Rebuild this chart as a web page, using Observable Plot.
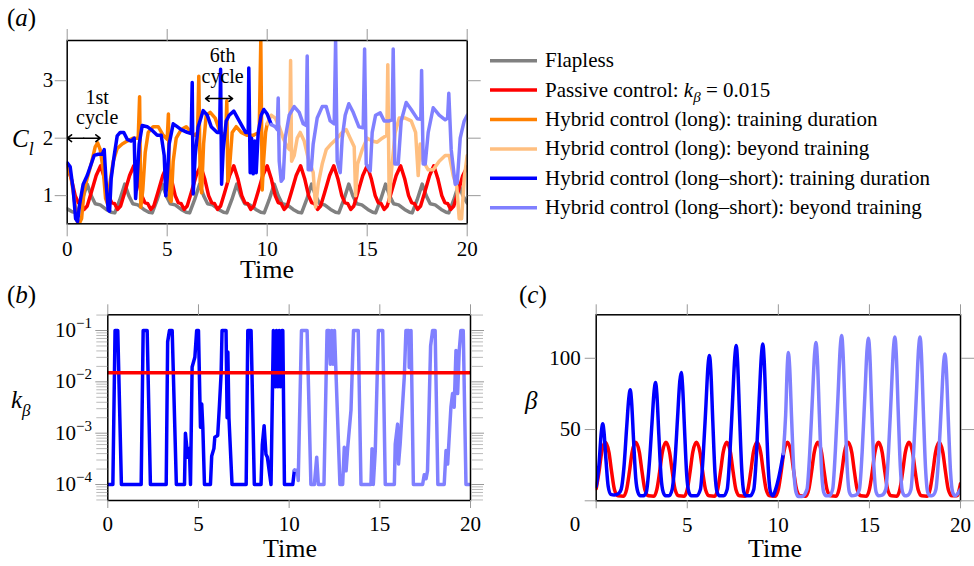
<!DOCTYPE html>
<html><head><meta charset="utf-8">
<script src="https://cdn.jsdelivr.net/npm/d3@7"></script>
<script src="https://cdn.jsdelivr.net/npm/@observablehq/plot@0.6"></script>
<style>
body{margin:0;background:#fff;}
#wrap{position:relative;width:974px;height:566px;overflow:hidden;}
#wrap svg{position:absolute;left:0;top:0;}
#wrap svg text{font-family:"Liberation Serif","Times New Roman",Times,serif !important;}
</style></head><body><div id="wrap"></div>
<script>
// ---------- tick values / labels ----------
const xTicks = [0, 5, 10, 15, 20];
const clTicks = [1, 2, 3];
const kTicks = [1e-4, 1e-3, 1e-2, 1e-1];
const kTickExp = ["−4", "−3", "−2", "−1"];
const betaTicks = [0, 50, 100];

// ---------- panel (a): lift coefficient C_l vs time ----------
const flapless = [[0,0.77],[0.25,0.72],
[0.5,0.7],[0.75,0.93],[1.0,1.2],[1.2,1.0],[1.4,0.86],[1.65,0.84],[1.95,0.76],[2.2,0.71],
[2.38,0.7],[2.63,0.93],[2.88,1.2],[3.08,1.0],[3.28,0.86],[3.53,0.84],[3.83,0.76],[4.08,0.71],
[4.25,0.7],[4.5,0.93],[4.75,1.2],[4.95,1.0],[5.15,0.86],[5.4,0.84],[5.7,0.76],[5.95,0.71],
[6.12,0.7],[6.37,0.93],[6.62,1.2],[6.82,1.0],[7.02,0.86],[7.27,0.84],[7.57,0.76],[7.82,0.71],
[7.98,0.7],[8.23,0.93],[8.48,1.2],[8.68,1.0],[8.88,0.86],[9.13,0.84],[9.43,0.76],[9.68,0.71],
[9.85,0.7],[10.1,0.93],[10.35,1.2],[10.55,1.0],[10.75,0.86],[11.0,0.84],[11.3,0.76],[11.55,0.71],
[11.72,0.7],[11.97,0.93],[12.22,1.2],[12.42,1.0],[12.62,0.86],[12.87,0.84],[13.17,0.76],[13.42,0.71],
[13.58,0.7],[13.83,0.93],[14.08,1.2],[14.28,1.0],[14.48,0.86],[14.73,0.84],[15.03,0.76],[15.28,0.71],
[15.42,0.7],[15.67,0.93],[15.92,1.2],[16.12,1.0],[16.32,0.86],[16.57,0.84],[16.87,0.76],[17.12,0.71],
[17.25,0.7],[17.5,0.93],[17.75,1.2],[17.95,1.0],[18.15,0.86],[18.4,0.84],[18.7,0.76],[18.95,0.71],
[19.08,0.7],[19.33,0.93],[19.58,1.2],[19.78,1.0],[20.0,0.87]];

const passiveCl = [[0,1.52],[0.2,1.3],[0.4,1.0],[0.55,0.88],[0.7,0.86],[0.85,0.76],[1.0,0.82],[1.2,1.05],[1.45,1.35],
[1.67,1.52],[1.87,1.3],[2.07,1.0],[2.22,0.88],[2.37,0.86],[2.52,0.76],[2.67,0.82],[2.87,1.05],[3.12,1.35],
[3.33,1.52],[3.53,1.3],[3.73,1.0],[3.88,0.88],[4.03,0.86],[4.18,0.76],[4.33,0.82],[4.53,1.05],[4.78,1.35],
[5.0,1.52],[5.2,1.3],[5.4,1.0],[5.55,0.88],[5.7,0.86],[5.85,0.76],[6.0,0.82],[6.2,1.05],[6.45,1.35],
[6.67,1.52],[6.87,1.3],[7.07,1.0],[7.22,0.88],[7.37,0.86],[7.52,0.76],[7.67,0.82],[7.87,1.05],[8.12,1.35],
[8.33,1.52],[8.53,1.3],[8.73,1.0],[8.88,0.88],[9.03,0.86],[9.18,0.76],[9.33,0.82],[9.53,1.05],[9.78,1.35],
[10.0,1.52],[10.2,1.3],[10.4,1.0],[10.55,0.88],[10.7,0.86],[10.85,0.76],[11.0,0.82],[11.2,1.05],[11.45,1.35],
[11.67,1.52],[11.87,1.3],[12.07,1.0],[12.22,0.88],[12.37,0.86],[12.52,0.76],[12.67,0.82],[12.87,1.05],[13.12,1.35],
[13.33,1.52],[13.53,1.3],[13.73,1.0],[13.88,0.88],[14.03,0.86],[14.18,0.76],[14.33,0.82],[14.53,1.05],[14.78,1.35],
[15.0,1.52],[15.2,1.3],[15.4,1.0],[15.55,0.88],[15.7,0.86],[15.85,0.76],[16.0,0.82],[16.2,1.05],[16.45,1.35],
[16.67,1.52],[16.87,1.3],[17.07,1.0],[17.22,0.88],[17.37,0.86],[17.52,0.76],[17.67,0.82],[17.87,1.05],[18.12,1.35],
[18.33,1.52],[18.53,1.3],[18.73,1.0],[18.88,0.88],[19.03,0.86],[19.18,0.76],[19.33,0.82],[19.53,1.05],[19.78,1.35],[20.0,1.5]];

const longTrainCl = [[0,1.55],[0.2,1.3],[0.35,0.95],[0.5,0.55],[0.6,0.51],[0.72,0.6],[0.85,1.1],[1.0,1.3],[1.2,1.55],[1.4,1.85],[1.52,1.92],[1.65,1.8],[1.8,1.45],[1.92,0.95],[2.02,0.85],[2.15,1.25],[2.3,1.6],[2.5,1.82],[2.75,1.9],[3.0,1.95],[3.3,2.0],[3.55,2.0],[3.62,2.72],[3.68,0.8],[3.78,1.1],[3.9,1.75],[4.05,2.1],[4.3,2.2],[4.55,2.2],[4.8,2.05],[5.0,1.98],[5.06,2.42],[5.12,0.95],[5.2,0.9],[5.3,1.6],[5.45,2.0],[5.7,2.15],[5.95,2.2],[6.2,2.1],[6.4,2.05],[6.52,2.1],[6.58,3.08],[6.65,1.25],[6.72,1.05],[6.82,1.9],[6.95,2.4],[7.15,2.45],[7.4,2.35],[7.6,2.15],[7.8,2.05],[7.93,2.1],[7.98,2.65],[8.03,1.25],[8.12,1.5],[8.25,2.1],[8.45,2.2],[8.7,2.1],[9.0,2.05],[9.3,2.05],[9.6,2.1],[9.68,3.7],[9.75,1.1],[9.82,1.6],[9.92,2.1],[10.0,2.25]];

const longBeyondCl = [[10.0,2.25],[10.2,2.4],[10.4,2.35],[10.6,2.2],[10.8,2.0],[11.0,1.85],[11.12,1.8],[11.17,3.35],[11.22,1.6],[11.35,1.7],[11.5,2.0],[11.65,2.1],[11.85,1.95],[12.05,1.65],[12.3,1.4],[12.42,0.8],[12.55,1.2],[12.75,1.55],[12.95,1.8],[13.2,1.9],[13.5,2.0],[13.75,2.1],[13.95,2.15],[14.15,2.0],[14.35,1.85],[14.42,1.0],[14.52,1.55],[14.75,1.8],[15.0,2.0],[15.25,1.95],[15.5,1.93],[15.75,2.0],[15.98,2.05],[16.03,3.28],[16.1,0.9],[16.22,1.45],[16.4,2.1],[16.6,2.35],[16.9,2.35],[17.2,2.3],[17.42,2.1],[17.55,1.35],[17.65,1.9],[17.8,1.6],[18.05,1.45],[18.3,1.45],[18.6,1.6],[18.9,1.7],[19.1,1.7],[19.3,1.35],[19.48,1.15],[19.6,0.6],[19.72,0.6],[19.85,1.3],[20.0,1.7]];

const lsTrainCl = [[0,1.57],[0.15,1.5],[0.3,1.1],[0.42,0.6],[0.52,0.55],[0.62,0.85],[0.8,1.2],[1.0,1.35],[1.2,1.55],[1.35,1.7],[1.55,1.72],[1.75,1.72],[1.85,1.8],[1.95,1.2],[2.05,0.75],[2.12,0.73],[2.2,1.3],[2.35,1.7],[2.5,2.04],[2.65,2.1],[2.83,2.1],[3.0,1.98],[3.2,1.95],[3.35,2.0],[3.42,0.95],[3.5,1.3],[3.6,1.9],[3.75,2.22],[4.0,2.2],[4.2,2.15],[4.5,2.05],[4.7,2.05],[4.85,1.7],[4.93,1.0],[5.0,1.3],[5.1,1.9],[5.3,2.25],[5.5,2.2],[5.7,2.15],[6.0,2.1],[6.2,2.08],[6.25,2.97],[6.3,1.03],[6.4,1.7],[6.55,2.2],[6.8,2.48],[7.0,2.4],[7.2,2.2],[7.5,2.1],[7.62,2.1],[7.67,3.2],[7.72,1.2],[7.8,1.8],[7.95,2.3],[8.1,2.4],[8.33,2.47],[8.6,2.3],[8.92,2.1],[9.05,2.1],[9.08,3.22],[9.15,1.4],[9.22,2.0],[9.3,1.38],[9.38,1.95],[9.45,1.4],[9.55,2.1],[9.7,2.4],[9.83,2.5],[10.0,2.42],[10.2,2.24]];

const lsBeyondCl = [[10.2,2.24],[10.4,2.2],[10.5,2.15],[10.55,2.7],[10.6,1.6],[10.7,1.25],[10.8,1.3],[10.9,2.0],[11.1,2.4],[11.35,2.55],[11.6,2.45],[11.8,2.25],[11.95,2.22],[12.0,3.43],[12.05,1.45],[12.2,1.45],[12.3,1.9],[12.5,2.35],[12.75,2.55],[12.95,2.55],[13.15,2.3],[13.35,2.25],[13.42,3.7],[13.5,1.6],[13.65,1.4],[13.75,2.0],[13.9,2.4],[14.08,2.6],[14.3,2.45],[14.58,2.2],[14.8,2.18],[14.87,3.55],[14.95,1.55],[15.15,1.43],[15.25,2.1],[15.42,2.4],[15.65,2.44],[15.85,2.3],[16.1,2.3],[16.25,2.32],[16.3,3.55],[16.38,1.55],[16.55,1.55],[16.7,2.3],[16.95,2.62],[17.2,2.5],[17.5,2.34],[17.68,2.33],[17.72,3.18],[17.8,1.55],[17.9,1.55],[18.05,2.1],[18.3,2.53],[18.6,2.4],[18.9,2.32],[19.02,2.35],[19.08,2.78],[19.2,1.8],[19.4,1.2],[19.5,1.22],[19.65,2.0],[19.85,2.3],[20.0,2.4]];

// ---------- panel (b): k_beta vs time ----------
const passiveK = [[0,0.015],[20,0.015]];
const lsTrainK = [[0,1e-4],[0.28,1e-4],[0.4,0.1],[0.55,0.1],[0.75,1e-4],[1.84,1e-4],[1.95,0.1],[2.17,0.1],[2.35,1e-4],[3.22,1e-4],[3.3,0.06],[3.4,0.1],[3.55,0.1],[3.78,1e-4],[4.23,1e-4],[4.28,0.001],[4.41,3.4e-4],[4.5,5e-4],[4.56,1e-4],[4.65,0.0195],[4.8,0.03],[4.9,0.1],[5.0,0.1],[5.11,0.0013],[5.18,0.0037],[5.24,0.0013],[5.33,1e-4],[5.66,1e-4],[5.73,3.6e-4],[5.85,5e-4],[5.9,8.3e-4],[6.06,9e-4],[6.16,0.0037],[6.25,0.015],[6.3,0.1],[6.52,0.1],[6.58,0.002],[6.62,0.038],[6.68,0.002],[6.85,1e-4],[7.63,1e-4],[7.72,0.1],[7.9,0.1],[8.08,1e-4],[8.45,1e-4],[8.52,6e-4],[8.62,0.0014],[8.72,3.9e-4],[8.8,3.4e-4],[9.0,1e-4],[9.13,0.1],[9.25,0.008],[9.3,0.1],[9.38,0.008],[9.45,0.1],[9.52,0.008],[9.6,0.1],[9.65,0.1],[9.74,1e-4],[10.2,1e-4],[10.29,1.9e-4]];
const lsBeyondK = [[10.29,1.9e-4],[10.45,1.9e-4],[10.5,1.2e-4],[10.68,0.1],[10.99,0.1],[11.2,1e-4],[11.39,1e-4],[11.52,3.4e-4],[11.61,1e-4],[11.92,1e-4],[12.09,0.1],[12.2,0.1],[12.27,0.022],[12.35,0.1],[12.42,0.022],[12.5,0.1],[12.8,1e-4],[12.95,1e-4],[13.04,5.3e-4],[13.14,1.85e-4],[13.23,5.3e-4],[13.41,0.0028],[13.55,0.1],[13.81,0.1],[13.96,1e-4],[14.51,1e-4],[14.57,5e-4],[14.64,1e-4],[14.75,4.6e-4],[14.92,0.1],[15.16,0.1],[15.3,1e-4],[15.8,1e-4],[15.85,6.1e-4],[15.98,0.0015],[16.03,2.5e-4],[16.12,6.1e-4],[16.35,0.0126],[16.44,0.1],[16.6,0.1],[16.62,0.019],[16.7,0.019],[16.72,0.1],[16.85,1e-4],[17.36,1e-4],[17.45,1.55e-4],[17.55,1.3e-4],[17.63,1.85e-4],[17.8,0.05],[17.91,0.1],[18.05,0.1],[18.2,1e-4],[18.55,1e-4],[18.65,4.6e-4],[18.74,2.5e-4],[18.92,0.0032],[19.01,0.0059],[19.1,0.0032],[19.2,0.041],[19.29,0.0059],[19.38,0.041],[19.47,0.1],[19.6,0.1],[19.75,1e-4],[20.0,1e-4]];

// ---------- panel (c): beta vs time ----------
const passiveBeta = [[0,8.5],[0.15,20],[0.3,34],[0.5,41],[0.7,34],[0.85,20],[1.0,8],[1.2,3.5],[1.5,3.2],
[1.67,8],[1.82,20],[1.97,34],[2.17,41],[2.37,34],[2.52,20],[2.67,8],[2.87,3.5],[3.17,3.2],
[3.33,8],[3.48,20],[3.63,34],[3.83,41],[4.03,34],[4.18,20],[4.33,8],[4.53,3.5],[4.83,3.2],
[5.0,8],[5.15,20],[5.3,34],[5.5,41],[5.7,34],[5.85,20],[6.0,8],[6.2,3.5],[6.5,3.2],
[6.67,8],[6.82,20],[6.97,34],[7.17,41],[7.37,34],[7.52,20],[7.67,8],[7.87,3.5],[8.17,3.2],
[8.33,8],[8.48,20],[8.63,34],[8.83,41],[9.03,34],[9.18,20],[9.33,8],[9.53,3.5],[9.83,3.2],
[10.0,8],[10.15,20],[10.3,34],[10.5,41],[10.7,34],[10.85,20],[11.0,8],[11.2,3.5],[11.5,3.2],
[11.67,8],[11.82,20],[11.97,34],[12.17,41],[12.37,34],[12.52,20],[12.67,8],[12.87,3.5],[13.17,3.2],
[13.33,8],[13.48,20],[13.63,34],[13.83,41],[14.03,34],[14.18,20],[14.33,8],[14.53,3.5],[14.83,3.2],
[15.0,8],[15.15,20],[15.3,34],[15.5,41],[15.7,34],[15.85,20],[16.0,8],[16.2,3.5],[16.5,3.2],
[16.67,8],[16.82,20],[16.97,34],[17.17,41],[17.37,34],[17.52,20],[17.67,8],[17.87,3.5],[18.17,3.2],
[18.33,8],[18.48,20],[18.63,34],[18.83,41],[19.03,34],[19.18,20],[19.33,8],[19.53,3.5],[19.8,3.5],[20.0,12]];

const lsTrainBeta = [[0,10],[0.15,25],[0.28,48],[0.36,54],[0.43,48],[0.54,28],[0.66,10],[0.8,4.5],[1.0,4],[1.22,5],
[1.37,8],[1.52,23],[1.67,51],[1.79,72],[1.87,78],[1.94,70],[2.05,43],[2.17,16],[2.29,6],[2.42,3.5],[2.6,3.5],
[2.75,6],[2.91,25],[3.06,54],[3.18,77],[3.26,83],[3.33,75],[3.44,46],[3.56,17],[3.68,6],[3.81,3.5],[4.0,3.5],
[4.17,8],[4.32,27],[4.47,59],[4.59,84],[4.67,90],[4.74,81],[4.85,50],[4.97,18],[5.09,6],[5.22,3.5],[5.5,3.5],
[5.72,8],[5.87,31],[6.02,66],[6.14,95],[6.22,102],[6.29,92],[6.4,56],[6.52,20],[6.64,6],[6.77,3.5],[7.0,3.5],
[7.19,8],[7.34,33],[7.49,71],[7.61,101],[7.69,109],[7.76,98],[7.87,60],[7.99,22],[8.11,6],[8.24,3.5],[8.45,3.5],
[8.65,8],[8.8,33],[8.95,72],[9.07,102],[9.15,110],[9.22,99],[9.33,61],[9.45,22],[9.57,6],[9.7,3.5],[9.85,8],[10.05,18],[10.27,33]];

const lsBeyondBeta = [[10.27,33],[10.4,60],[10.5,97],[10.55,104],[10.62,94],[10.73,57],[10.85,21],[10.97,6],[11.1,3],[11.3,3],
[11.57,8],[11.72,33],[11.87,72],[11.99,103],[12.07,111],[12.14,100],[12.25,61],[12.37,22],[12.49,6],[12.62,3.5],[12.8,3.5],
[12.98,8],[13.13,35],[13.28,75],[13.4,108],[13.48,116],[13.55,104],[13.66,64],[13.78,23],[13.9,6],[14.03,3.5],[14.25,4],
[14.45,8],[14.6,34],[14.75,74],[14.87,106],[14.95,114],[15.02,103],[15.13,63],[15.25,23],[15.37,6],[15.5,3.5],[15.7,4],
[15.9,8],[16.05,35],[16.2,75],[16.32,107],[16.4,115],[16.47,104],[16.58,63],[16.7,23],[16.82,6],[16.95,3.5],[17.12,4],
[17.28,8],[17.43,35],[17.58,75],[17.7,107],[17.78,115],[17.85,104],[17.96,63],[18.08,23],[18.2,6],[18.33,3.5],[18.5,4],
[18.65,8],[18.8,31],[18.95,67],[19.07,96],[19.15,103],[19.22,93],[19.33,57],[19.45,21],[19.57,6],[19.7,3.5],[19.85,5],[20.0,8]];

// ---------- annotations / legend ----------
const cycleArrows = [
  {name: "1st", from: 0, to: 1.65, y: 2.0, lx: 1.5, ly1: 2.7, ly2: 2.36},
  {name: "6th", from: 6.92, to: 8.27, y: 2.69, lx: 7.77, ly1: 3.43, ly2: 3.07}
];
const legendItems = [
  {label: "Flapless", color: "#808080"},
  {label: "Passive control", color: "#ff0000"},
  {label: "Hybrid control (long): training duration", color: "#ff8000"},
  {label: "Hybrid control (long): beyond training", color: "#ffbf80"},
  {label: "Hybrid control (long–short): training duration", color: "#0000ff"},
  {label: "Hybrid control (long–short): beyond training", color: "#8080ff"}
];
const C = Object.fromEntries(legendItems.map((d, i) => [["gray","red","orange","lorange","blue","lblue"][i], d.color]));

// ---------- drawing ----------
const W = 974, H = 566;
const FONT = '"Liberation Serif","Times New Roman",Times,serif';
const TICK = "#999";
const LW = 3.5;
const FS = 21;
const wrap = document.getElementById("wrap");
function mk(opts) {
  const el = Plot.plot(Object.assign({width: W, height: H,
    style: {fontFamily: FONT, background: "transparent", overflow: "visible"}}, opts));
  wrap.appendChild(el);
  return el;
}
const blank = () => "";
const ax = (o) => Object.assign({stroke: TICK, label: null, fontFamily: FONT, fontSize: FS, fill: "black"}, o);

// panel (a)
mk({
  marginLeft: 66.7, marginRight: 507.3, marginTop: 40, marginBottom: 342.7,
  x: {domain: [0, 20]}, y: {domain: [0.51, 3.7]},
  marks: [
    Plot.line(flapless, {stroke: C.gray, strokeWidth: LW, clip: true}),
    Plot.line(passiveCl, {stroke: C.red, strokeWidth: LW, clip: true}),
    Plot.line(longTrainCl, {stroke: C.orange, strokeWidth: LW, clip: true}),
    Plot.line(longBeyondCl, {stroke: C.lorange, strokeWidth: LW, clip: true}),
    Plot.line(lsTrainCl, {stroke: C.blue, strokeWidth: LW, clip: true}),
    Plot.line(lsBeyondCl, {stroke: C.lblue, strokeWidth: LW, clip: true}),
    Plot.arrow(cycleArrows, {x1: d => (d.from + d.to) / 2, x2: d => d.from, y1: "y", y2: "y", stroke: "black", strokeWidth: 1.6, headLength: 9, headAngle: 75}),
    Plot.arrow(cycleArrows, {x1: d => (d.from + d.to) / 2, x2: d => d.to, y1: "y", y2: "y", stroke: "black", strokeWidth: 1.6, headLength: 9, headAngle: 75}),
    Plot.text(cycleArrows, {x: "lx", y: "ly1", text: "name", fontSize: 20, fontFamily: FONT, fill: "black"}),
    Plot.text(cycleArrows, {x: "lx", y: "ly2", text: () => "cycle", fontSize: 20, fontFamily: FONT, fill: "black"}),
    Plot.frame({stroke: "black", strokeWidth: 1.5}),
    Plot.axisX(ax({ticks: xTicks, anchor: "bottom", tickSize: 13, tickPadding: 4, tickFormat: d => String(d)})),
    Plot.axisX(ax({ticks: xTicks, anchor: "top", tickSize: 12, tickFormat: blank})),
    Plot.axisY(ax({ticks: clTicks, anchor: "left", tickSize: 12, tickPadding: 2, tickFormat: d => String(d)})),
    Plot.axisY(ax({ticks: clTicks, anchor: "right", tickSize: 13, tickFormat: blank}))
  ]
});

// panel (b)
const kDomain = [4.88e-5, 0.2023];
const kMinor = [];
for (let e = -5; e <= -1; e++) for (let m = 2; m <= 9; m++) { const v = m * Math.pow(10, e); if (v >= kDomain[0] && v <= kDomain[1]) kMinor.push(v); }
const chartB = mk({
  marginLeft: 107.3, marginRight: 504, marginTop: 314.3, marginBottom: 66,
  x: {domain: [0, 20]}, y: {type: "log", domain: kDomain},
  marks: [
    Plot.line(lsTrainK, {stroke: C.blue, strokeWidth: LW, clip: true}),
    Plot.line(lsBeyondK, {stroke: C.lblue, strokeWidth: LW, clip: true}),
    Plot.line(passiveK, {stroke: C.red, strokeWidth: LW, clip: true}),
    Plot.frame({stroke: "black", strokeWidth: 1.5}),
    Plot.axisX(ax({ticks: xTicks, anchor: "bottom", tickSize: 8, tickPadding: 8, tickFormat: d => String(d)})),
    Plot.axisX(ax({ticks: xTicks, anchor: "top", tickSize: 11, tickFormat: blank})),
    Plot.axisY(ax({ticks: kMinor, anchor: "left", tickSize: 11, tickFormat: blank, stroke: "#bbb"})),
    Plot.axisY(ax({ticks: kMinor, anchor: "right", tickSize: 12, tickFormat: blank, stroke: "#bbb"})),
    Plot.axisY(ax({ticks: kTicks, anchor: "left", tickSize: 12, tickFormat: blank})),
    Plot.axisY(ax({ticks: kTicks, anchor: "right", tickSize: 13, tickFormat: blank}))
  ]
});

// panel (c)
mk({
  marginLeft: 595.7, marginRight: 14, marginTop: 314.3, marginBottom: 65.7,
  x: {domain: [0, 20]}, y: {domain: [0, 130.5]},
  marks: [
    Plot.line(passiveBeta, {stroke: C.red, strokeWidth: LW, curve: "monotone-x", clip: true}),
    Plot.line(lsTrainBeta, {stroke: C.blue, strokeWidth: LW, curve: "monotone-x", clip: true}),
    Plot.line(lsBeyondBeta, {stroke: C.lblue, strokeWidth: LW, curve: "monotone-x", clip: true}),
    Plot.frame({stroke: "black", strokeWidth: 1.5}),
    Plot.axisX(ax({ticks: xTicks, anchor: "bottom", tickSize: 8, tickPadding: 8, tickFormat: d => d === 0 ? "" : String(d)})),
    Plot.axisX(ax({ticks: xTicks, anchor: "top", tickSize: 11, tickFormat: blank})),
    Plot.axisY(ax({ticks: betaTicks, anchor: "left", tickSize: 11, tickPadding: 4.5, tickFormat: d => d === 0 ? "" : String(d)})),
    Plot.axisY(ax({ticks: betaTicks, anchor: "right", tickSize: 13, tickFormat: blank}))
  ]
});

// overlay: labels, legend
const ov = d3.select(wrap).append("svg").attr("width", W).attr("height", H)
  .style("font-family", FONT).attr("fill", "black");
function panelLabel(x, y, letter) {
  const t = ov.append("text").attr("x", x).attr("y", y).attr("font-size", 25);
  t.append("tspan").text("(");
  t.append("tspan").attr("font-style", "italic").text(letter);
  t.append("tspan").text(")");
}
panelLabel(7, 26, "a");
panelLabel(7, 303, "b");
panelLabel(519, 303, "c");

function timeLabel(x, y) {
  ov.append("text").attr("x", x).attr("y", y).attr("text-anchor", "middle").attr("font-size", 26).text("Time");
}
timeLabel(267, 278);
timeLabel(290, 557);
timeLabel(775, 557);

// C_l
{ const t = ov.append("text").attr("x", 12).attr("y", 147).attr("font-size", 25).attr("font-style", "italic");
  t.append("tspan").text("C");
  t.append("tspan").attr("font-size", 18).attr("dy", 8).text("l"); }
// k_beta
{ const t = ov.append("text").attr("x", 11).attr("y", 408).attr("font-size", 25).attr("font-style", "italic");
  t.append("tspan").text("k");
  t.append("tspan").attr("font-size", 17).attr("dy", 8).text("β"); }
// beta
ov.append("text").attr("x", 525).attr("y", 409).attr("font-size", 25).attr("font-style", "italic").text("β");
// lone 0 of panel (c)
ov.append("text").attr("x", 575).attr("y", 531).attr("text-anchor", "middle").attr("font-size", FS).text("0");

// log tick labels of panel (b), placed through Plot's own y scale
let ky;
try { const s = chartB.scale("y"); ky = s && s.apply ? v => s.apply(v) : null; } catch (e) { ky = null; }
if (!ky) { const s = d3.scaleLog().domain(kDomain).range([500, 314.3]); ky = v => s(v); }
kTicks.forEach((v, i) => {
  const t = ov.append("text").attr("x", 92).attr("y", ky(v) + 7).attr("text-anchor", "end").attr("font-size", FS);
  t.append("tspan").text("10");
  t.append("tspan").attr("font-size", 15).attr("dy", -9).text(kTickExp[i]);
});

// legend
const lg = ov.append("g");
legendItems.forEach((d, i) => {
  const y = 60.7 + i * 29.4;
  lg.append("line").attr("x1", 490).attr("x2", 537).attr("y1", y).attr("y2", y)
    .attr("stroke", d.color).attr("stroke-width", 3.5);
  const t = lg.append("text").attr("x", 545).attr("y", y + 6.5).attr("font-size", 21);
  if (i === 1) {
    t.append("tspan").text("Passive control: ");
    t.append("tspan").attr("font-style", "italic").text("k");
    t.append("tspan").attr("font-style", "italic").attr("font-size", 15).attr("dy", 5).text("β");
    t.append("tspan").attr("dy", -5).text(" = 0.015");
  } else {
    t.text(d.label);
  }
});
</script></body></html>
